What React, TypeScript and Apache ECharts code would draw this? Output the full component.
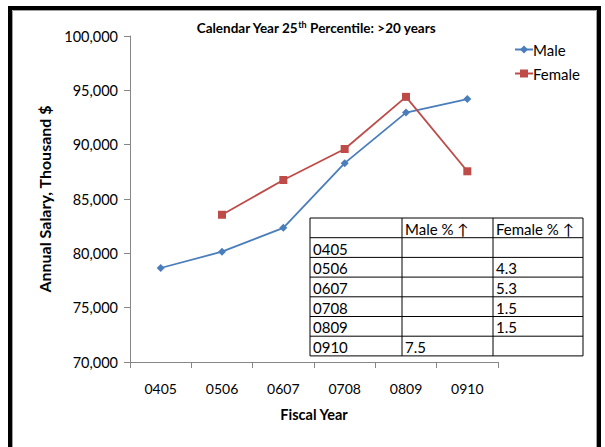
import React, { useEffect, useRef } from "react";
import * as echarts from "echarts";

const categories = ["0405", "0506", "0607", "0708", "0809", "0910"];
const maleValues = [78650, 80150, 82350, 88300, 92950, 94200];
const femaleValues: (number | null)[] = [null, 83550, 86750, 89600, 94400, 87550];
const yTicks = [70000, 75000, 80000, 85000, 90000, 95000, 100000];

const tableHeader = ["", "Male % \u2191", "Female % \u2191"];
const tableYears = ["0405", "0506", "0607", "0708", "0809", "0910"];
const tableMale = ["", "", "", "", "", "7.5"];
const tableFemale = ["", "4.3", "5.3", "1.5", "1.5", ""];

const FONT = "Lato, 'Open Sans', sans-serif";

export default function App() {
  const ref = useRef<HTMLDivElement>(null);
  useEffect(() => {
    if (!ref.current) return;
    const chart = echarts.init(ref.current, undefined, { renderer: "svg" });

    const tx = 310;
    const ty = 218;
    const colX = [310, 402, 493, 583];
    const rowH = 19.7;
    const rows = [tableHeader, ...tableYears.map((y, i) => [y, tableMale[i], tableFemale[i]])];
    const tableEls: any[] = [];
    tableEls.push({
      type: "rect",
      shape: { x: tx, y: ty, width: colX[3] - tx, height: rowH * rows.length },
      style: { fill: "#fff", stroke: "#000", lineWidth: 1 },
    });
    for (let r = 1; r < rows.length; r++) {
      tableEls.push({
        type: "line",
        shape: { x1: tx, y1: ty + r * rowH, x2: colX[3], y2: ty + r * rowH },
        style: { stroke: "#000", lineWidth: 1 },
      });
    }
    for (let c = 1; c < 3; c++) {
      tableEls.push({
        type: "line",
        shape: { x1: colX[c], y1: ty, x2: colX[c], y2: ty + rowH * rows.length },
        style: { stroke: "#000", lineWidth: 1 },
      });
    }
    rows.forEach((row, r) => {
      row.forEach((txt, c) => {
        if (!txt) return;
        tableEls.push({
          type: "text",
          x: colX[c] + 3,
          y: ty + r * rowH + rowH / 2 + 1,
          style: {
            text: txt,
            font: `15px ${FONT}`,
            fill: "#000",
            verticalAlign: "middle",
            align: "left",
          },
        });
      });
    });

    chart.setOption({
      animation: false,
      backgroundColor: "#fff",
      textStyle: { fontFamily: FONT },
      title: {
        text: "{a|Calendar Year 25}{s|th}{a| Percentile: >20 years}",
        left: 311,
        top: 15,
        textAlign: "center",
        textStyle: {
          rich: {
            a: { fontSize: 13.5, fontWeight: "bold", color: "#000", fontFamily: FONT },
            s: { fontSize: 9, fontWeight: "bold", color: "#000", fontFamily: FONT, verticalAlign: "top", padding: [0, 0, 6, 0] },
          },
        },
      },
      legend: {
        orient: "vertical",
        left: 509,
        top: 37,
        itemWidth: 18,
        itemHeight: 10,
        itemGap: 9,
        textStyle: { fontSize: 15, color: "#000", fontFamily: FONT, padding: [0, 0, 0, -5] },
        data: ["Male", "Female"],
      },
      grid: { left: 130, right: 107, top: 36, bottom: 85, containLabel: false },
      xAxis: {
        type: "category",
        data: categories,
        boundaryGap: true,
        name: "Fiscal Year",
        nameLocation: "middle",
        nameGap: 45,
        nameTextStyle: { fontSize: 14.5, fontWeight: "bold", color: "#000" },
        axisLine: { lineStyle: { color: "#868686" } },
        axisTick: { show: true, alignWithLabel: false, length: 6, lineStyle: { color: "#868686" } },
        axisLabel: { fontSize: 14, color: "#000", margin: 19 },
      },
      yAxis: {
        type: "value",
        min: yTicks[0],
        max: yTicks[yTicks.length - 1],
        interval: 5000,
        name: "Annual Salary, Thousand $",
        nameLocation: "middle",
        nameGap: 78,
        nameTextStyle: { fontSize: 16, fontWeight: "bold", color: "#000" },
        axisLine: { show: true, lineStyle: { color: "#868686" } },
        axisTick: { show: true, length: 6, lineStyle: { color: "#868686" } },
        splitLine: { show: false },
        axisLabel: {
          fontSize: 14.5,
          color: "#000",
          margin: 12,
          formatter: (v: number) => v.toLocaleString("en-US"),
        },
      },
      series: [
        {
          name: "Male",
          type: "line",
          data: maleValues,
          color: "#4a7ebb",
          symbol: "diamond",
          symbolSize: 8,
          lineStyle: { width: 1.8, color: "#4a7ebb" },
          itemStyle: { color: "#4a7ebb" },
        },
        {
          name: "Female",
          type: "line",
          data: femaleValues,
          color: "#be4b48",
          symbol: "rect",
          symbolSize: 8,
          lineStyle: { width: 1.8, color: "#be4b48" },
          itemStyle: { color: "#be4b48" },
        },
      ],
      graphic: [
        {
          type: "rect",
          shape: { x: 10, y: 8, width: 589, height: 460 },
          style: { fill: "none", stroke: "#000", lineWidth: 4 },
          silent: true,
        },
        {
          type: "rect",
          shape: { x: 12.5, y: 10.5, width: 584, height: 460 },
          style: { fill: "none", stroke: "#a0a0a0", lineWidth: 1 },
          silent: true,
        },
        { type: "group", children: tableEls },
      ],
    });
    return () => chart.dispose();
  }, []);
  return (
    <div
      ref={ref}
      style={{ position: "absolute", left: 0, top: 0, width: 605, height: 447 }}
    />
  );
}
